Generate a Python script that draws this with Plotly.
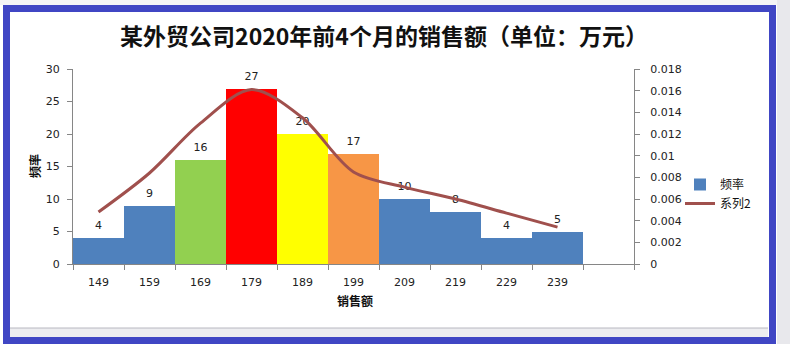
import plotly.graph_objects as go

# Sales bins (万元), count per bin and the fitted frequency curve
categories = ["149", "159", "169", "179", "189", "199", "209", "219", "229", "239", " "]
counts = [4, 9, 16, 27, 20, 17, 10, 8, 4, 5, None]
curve = [0.0048, 0.0084, 0.0130, 0.0161, 0.0135, 0.0085, 0.0071, 0.0060, 0.0047, 0.0034, None]
bar_colors = ["#4F81BD", "#4F81BD", "#92D050", "#FF0000", "#FFFF00", "#F79646",
              "#4F81BD", "#4F81BD", "#4F81BD", "#4F81BD", "#4F81BD"]
left_ticks = [0, 5, 10, 15, 20, 25, 30]
right_ticks = [0, 0.002, 0.004, 0.006, 0.008, 0.01, 0.012, 0.014, 0.016, 0.018]
right_labels = ["0", "0.002", "0.004", "0.006", "0.008", "0.01", "0.012", "0.014", "0.016", "0.018"]

CJK = "Noto Sans CJK SC"
TICKF = dict(family="DejaVu Sans", size=11, color="#222222")
AXIS_GREY = "#868686"

fig = go.Figure()
fig.add_trace(go.Bar(
    x=categories, y=counts, name="频率",
    marker=dict(color=bar_colors, line=dict(width=0)),
    hoverinfo="x+y",
))
fig.add_trace(go.Scatter(
    x=categories, y=curve, name="系列2", yaxis="y2", mode="lines",
    line=dict(color="#A0504D", width=3, shape="spline", smoothing=0.9),
))
# value labels floating a little above each bar
fig.add_trace(go.Scatter(
    x=categories, y=counts, mode="markers+text", showlegend=False, hoverinfo="skip",
    marker=dict(size=8, opacity=0),
    text=[str(v) if v is not None else "" for v in counts],
    textposition="top center", cliponaxis=False,
    textfont=dict(family="DejaVu Sans", size=11, color="#222222"),
))

# pixel helpers for the plot area (x 73..634, y 69..264)
def px(x):
    return (x - 73) / 561
def py(y):
    return (264 - y) / 195

fig.update_layout(
    width=790, height=344, autosize=False,
    margin=dict(l=73, r=156, t=69, b=80, autoexpand=False),
    paper_bgcolor="white", plot_bgcolor="white",
    bargap=0,
    showlegend=True,
    title=dict(text="<b>某外贸公司2020年前4个月的销售额（单位：万元）</b>",
               font=dict(family=CJK, size=23, color="#111111"),
               xref="container", yref="container", x=384 / 790, y=1 - 37 / 344,
               xanchor="center", yanchor="middle"),
    xaxis=dict(type="category", categoryorder="array", categoryarray=categories,
               range=[-0.5, 10.5], tickson="boundaries", ticks="outside", ticklen=5,
               tickcolor=AXIS_GREY, showline=True, linecolor=AXIS_GREY, linewidth=1,
               showgrid=False, tickfont=TICKF, ticklabelstandoff=8, fixedrange=True),
    yaxis=dict(range=[0, 30], tickvals=left_ticks, ticks="outside", ticklen=5,
               tickcolor=AXIS_GREY, showline=True, linecolor=AXIS_GREY, linewidth=1,
               showgrid=False, zeroline=False, tickfont=TICKF, ticklabelstandoff=5),
    yaxis2=dict(range=[0, 0.018], tickvals=right_ticks, ticktext=right_labels,
                overlaying="y", side="right", ticks="outside", ticklen=5,
                tickcolor=AXIS_GREY, showline=True, linecolor=AXIS_GREY, linewidth=1,
                showgrid=False, zeroline=False, tickfont=TICKF, ticklabelstandoff=8),
    legend=dict(xref="container", yref="container", x=680 / 790, y=1 - 170 / 344,
                xanchor="left", yanchor="top", bgcolor="rgba(0,0,0,0)",
                font=dict(family=CJK, size=12, color="#111111"),
                tracegroupgap=2, itemwidth=30),
    annotations=[
        dict(text="<b>频率</b>", xref="paper", yref="paper", x=px(34), y=py(166),
             xanchor="center", yanchor="middle", textangle=-90, showarrow=False,
             font=dict(family=CJK, size=12, color="#111111")),
        dict(text="<b>销售额</b>", xref="paper", yref="paper", x=px(355), y=py(300),
             xanchor="center", yanchor="middle", showarrow=False,
             font=dict(family=CJK, size=12, color="#111111")),
    ],
    shapes=[
        # grey spreadsheet margin on the right
        dict(type="rect", xref="paper", yref="paper", x0=px(777), x1=px(790), y0=py(344), y1=py(0),
             fillcolor="#E8E8EC", line=dict(width=0), layer="below"),
        # light strip at the top
        dict(type="rect", xref="paper", yref="paper", x0=px(0), x1=px(777), y0=py(5), y1=py(0),
             fillcolor="#F4F4F6", line=dict(width=0), layer="below"),
        # strip below the chart area
        dict(type="rect", xref="paper", yref="paper", x0=px(10), x1=px(768), y0=py(339), y1=py(328),
             fillcolor="#EDEDF0", line=dict(width=0), layer="below"),
        dict(type="line", xref="paper", yref="paper", x0=px(10), x1=px(768), y0=py(328), y1=py(328),
             line=dict(color="#B8B8C0", width=1)),
        # blue selection frame
        dict(type="rect", xref="paper", yref="paper", x0=px(6.5), x1=px(772.5), y0=py(340.5), y1=py(8.5),
             fillcolor="rgba(0,0,0,0)", line=dict(color="#4046C4", width=7)),
    ],
)

fig.write_html("out.html")
